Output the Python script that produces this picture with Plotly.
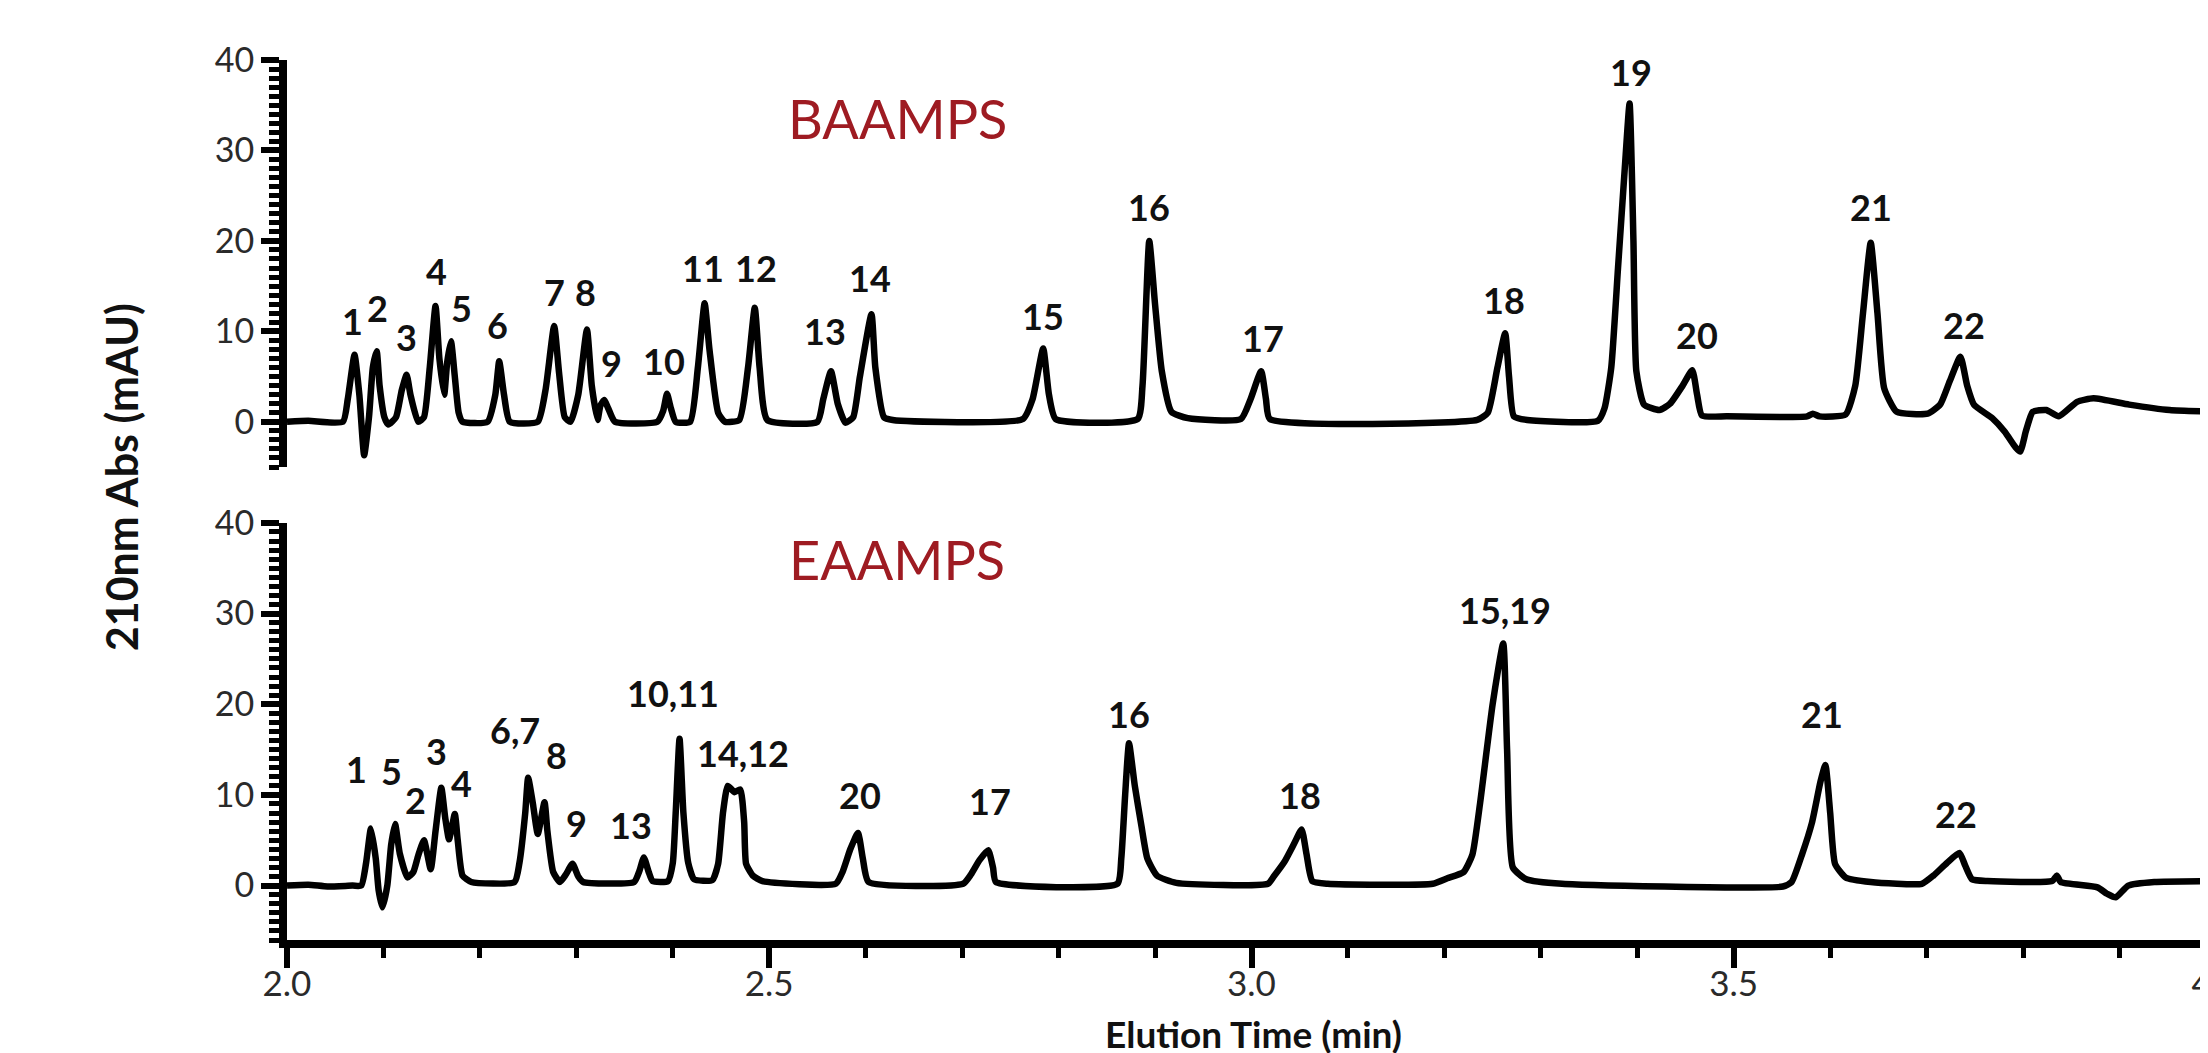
import plotly.graph_objects as go

# ---------------- data ----------------
# Upper chromatogram (BAAMPS): elution time (min) and absorbance (mAU)
top_time = [
    2.000, 2.022, 2.058,
    2.063, 2.070, 2.075, 2.080, 2.085, 2.089, 2.093, 2.096, 2.101, 2.105,
    2.113, 2.119, 2.124, 2.128, 2.136,
    2.142, 2.148, 2.154, 2.158, 2.163, 2.166, 2.170, 2.174, 2.178, 2.182,
    2.208, 2.216, 2.220, 2.225, 2.231,
    2.260, 2.268, 2.277, 2.282, 2.288, 2.294, 2.302, 2.311, 2.316, 2.322,
    2.325, 2.329, 2.333, 2.340,
    2.384, 2.390, 2.394, 2.398, 2.403,
    2.418, 2.426, 2.433, 2.438, 2.447, 2.454,
    2.469, 2.478, 2.485, 2.490, 2.498,
    2.550, 2.556, 2.564, 2.571, 2.579,
    2.587, 2.594, 2.606, 2.610, 2.619, 2.628,
    2.763, 2.773, 2.784, 2.790, 2.797,
    2.882, 2.887, 2.894, 2.900, 2.907, 2.917, 2.934,
    2.989, 2.999, 3.010, 3.015, 3.019,
    3.234, 3.245, 3.255, 3.263, 3.267, 3.272, 3.286,
    3.359, 3.366, 3.373, 3.380, 3.387, 3.392, 3.396, 3.399, 3.407, 3.423,
    3.434, 3.447, 3.457, 3.462, 3.467, 3.493,
    3.576, 3.582, 3.589,
    3.616, 3.626, 3.634, 3.642, 3.649, 3.656, 3.669, 3.701,
    3.714, 3.724, 3.735, 3.742, 3.749, 3.768,
    3.781, 3.792, 3.797, 3.803, 3.810, 3.824, 3.837, 3.856, 3.873,
    3.910, 3.952, 4.000,
]
top_signal = [
    0.0, 0.1, 0.0,
    2.5, 7.4, 3.0, -3.7, 0.5, 6.0, 7.8, 4.0, 0.5, -0.3,
    0.5, 3.5, 5.2, 3.0, 0.0,
    0.5, 6.0, 12.8, 7.0, 3.0, 6.5, 8.9, 5.0, 1.0, 0.0,
    0.0, 3.0, 6.7, 3.0, 0.0,
    0.0, 3.5, 10.6, 5.5, 0.5, 0.0, 3.0, 10.2, 4.0, 0.2,
    1.8, 2.4, 1.5, 0.0,
    0.0, 1.2, 3.1, 1.5, 0.0,
    0.0, 6.0, 13.1, 8.0, 1.0, 0.0,
    0.2, 6.0, 12.6, 6.0, 0.2,
    0.0, 2.5, 5.6, 2.0, -0.1,
    0.5, 5.0, 11.9, 6.0, 0.5, 0.2,
    0.3, 2.5, 8.1, 3.0, 0.3,
    0.3, 4.0, 20.0, 13.0, 5.6, 1.1, 0.4,
    0.3, 2.5, 5.6, 2.5, 0.3,
    0.2, 1.0, 6.0, 9.8, 5.0, 0.6, 0.2,
    0.1, 1.5, 6.0, 17.0, 28.0, 35.2, 20.0, 5.6, 1.9, 1.3,
    2.0, 4.0, 5.7, 3.0, 0.7, 0.6,
    0.6, 0.9, 0.6,
    0.8, 4.0, 12.0, 19.8, 12.0, 3.7, 1.1, 0.9,
    1.9, 4.5, 7.2, 4.0, 1.9, 0.4,
    -1.1, -2.8, -3.3, -1.0, 1.1, 1.3, 0.6, 2.2, 2.6,
    1.9, 1.3, 1.1,
]

# Lower chromatogram (EAAMPS)
bottom_time = [
    2.000, 2.022, 2.042, 2.068, 2.077,
    2.082, 2.087, 2.092, 2.095, 2.099, 2.104, 2.108, 2.112, 2.117, 2.125,
    2.131, 2.136, 2.142, 2.149, 2.154, 2.160, 2.164, 2.168, 2.174, 2.177,
    2.182, 2.191,
    2.236, 2.241, 2.247, 2.250, 2.255, 2.260, 2.267, 2.270, 2.276, 2.283,
    2.289, 2.296, 2.302, 2.307,
    2.360, 2.365, 2.370, 2.375, 2.379,
    2.395, 2.400, 2.403, 2.407, 2.411, 2.416, 2.422,
    2.441, 2.447, 2.452, 2.457, 2.464, 2.470, 2.474, 2.476, 2.483, 2.493,
    2.569, 2.576, 2.584, 2.592, 2.597, 2.603,
    2.701, 2.709, 2.718, 2.727, 2.732, 2.735,
    2.861, 2.865, 2.869, 2.873, 2.879, 2.886, 2.892, 2.902, 2.922,
    3.017, 3.023, 3.034, 3.045, 3.052, 3.057, 3.063, 3.079,
    3.188, 3.203, 3.220, 3.229, 3.237, 3.250, 3.261, 3.265, 3.271, 3.285,
    3.322,
    3.551, 3.560, 3.571, 3.581, 3.590, 3.595, 3.600, 3.605, 3.616, 3.642,
    3.695, 3.707, 3.721, 3.734, 3.740, 3.747, 3.763,
    3.830, 3.835, 3.839, 3.877, 3.887, 3.896, 3.909, 3.936, 4.000,
]
bottom_signal = [
    0.0, 0.1, -0.1, 0.0, 0.0,
    2.5, 6.3, 3.0, -0.5, -2.4, 0.0, 4.5, 6.8, 3.5, 0.9,
    1.5, 3.3, 5.0, 1.8, 6.0, 10.8, 7.5, 5.1, 7.9, 5.0,
    1.1, 0.4,
    0.4, 2.5, 8.0, 11.9, 9.0, 5.7, 9.2, 6.0, 1.5, 0.4,
    1.2, 2.4, 1.0, 0.4,
    0.4, 1.5, 3.1, 1.5, 0.5,
    0.5, 2.5, 8.0, 16.2, 8.0, 2.5, 0.7,
    0.6, 2.4, 8.0, 11.0, 10.3, 10.6, 7.0, 2.4, 1.1, 0.5,
    0.2, 1.5, 4.0, 5.8, 3.0, 0.4,
    0.2, 1.2, 2.8, 3.9, 2.0, 0.4,
    0.2, 3.0, 10.0, 15.7, 11.0, 6.5, 3.0, 1.1, 0.3,
    0.2, 1.0, 2.6, 4.8, 6.2, 3.5, 0.5, 0.2,
    0.2, 0.8, 1.5, 3.4, 9.1, 20.0, 26.7, 15.0, 2.0, 0.7,
    0.2,
    -0.1, 0.4, 3.5, 6.9, 11.5, 13.3, 8.0, 2.4, 0.9, 0.4,
    0.2, 1.1, 2.5, 3.6, 2.2, 0.7, 0.5,
    0.5, 1.1, 0.4, -0.2, -0.9, -1.3, 0.0, 0.4, 0.5,
]

# Peak labels
top_labels = ["1", "2", "3", "4", "5", "6", "7", "8", "9", "10", "11", "12",
              "13", "14", "15", "16", "17", "18", "19", "20", "21", "22"]
top_label_time = [2.068, 2.094, 2.124, 2.155, 2.181, 2.218, 2.277, 2.310, 2.336,
                  2.391, 2.431, 2.486, 2.558, 2.604, 2.784, 2.894, 3.012, 3.262,
                  3.393, 3.462, 3.642, 3.739]
top_label_level = [11.1, 12.6, 9.4, 16.7, 12.6, 10.7, 14.4, 14.4, 6.5,
                   6.7, 17.0, 17.0, 10.0, 15.9, 11.7, 23.7, 9.3, 13.5,
                   38.7, 9.6, 23.7, 10.7]

bottom_labels = ["1", "5", "2", "3", "4", "6,7", "8", "9", "13", "10,11", "14,12",
                 "20", "17", "16", "18", "15,19", "21", "22"]
bottom_label_time = [2.072, 2.108, 2.133, 2.155, 2.181, 2.236, 2.279, 2.300, 2.357,
                     2.400, 2.473, 2.594, 2.729, 2.873, 3.050, 3.263, 3.592, 3.730]
bottom_label_level = [12.9, 12.6, 9.4, 14.8, 11.3, 17.2, 14.4, 6.9, 6.7,
                      21.2, 14.6, 10.0, 9.3, 18.9, 10.0, 30.4, 18.9, 7.9]

y_ticks = [0, 10, 20, 30, 40]
x_ticks = [2.0, 2.5, 3.0, 3.5, 4.0]
panel_names = ["BAAMPS", "EAAMPS"]

# ---------------- figure ----------------
FONT = "Lato"
LINE = dict(color="black", width=6.5, shape="spline", smoothing=0.5)
fig = go.Figure()
fig.add_trace(go.Scatter(x=top_time, y=top_signal, xaxis="x2", yaxis="y2",
                         mode="lines", line=LINE,
                         showlegend=False, hoverinfo="skip"))
fig.add_trace(go.Scatter(x=bottom_time, y=bottom_signal, xaxis="x", yaxis="y",
                         mode="lines", line=LINE,
                         showlegend=False, hoverinfo="skip"))

def y_axis(rng, domain, anchor):
    return dict(
        range=rng, domain=domain, tickvals=y_ticks, ticks="outside",
        ticklen=18, tickwidth=6, tickcolor="black",
        showline=True, linewidth=8, linecolor="black",
        showgrid=False, zeroline=False, automargin=False,
        tickfont=dict(family=FONT, size=34, color="#2a2a2a"),
        minor=dict(dtick=1, tick0=0, ticks="outside", ticklen=10,
                   tickwidth=5, tickcolor="black", showgrid=False),
        anchor=anchor,
    )

fig.update_layout(
    width=2208, height=1053,
    margin=dict(l=279, r=0, t=52, b=121),
    paper_bgcolor="white", plot_bgcolor="white",
    xaxis=dict(
        range=[2.0, 4.0], domain=[0, 1], anchor="y",
        tickvals=x_ticks, tickformat=".1f", ticks="outside",
        ticklen=20, tickwidth=6, tickcolor="black",
        showline=True, linewidth=8, linecolor="black",
        showgrid=False, zeroline=False, automargin=False,
        ticklabeloverflow="allow", ticklabelstandoff=-14,
        tickfont=dict(family=FONT, size=35, color="#2a2a2a"),
        minor=dict(dtick=0.1, tick0=2.0, ticks="outside", ticklen=10,
                   tickwidth=5, tickcolor="black", showgrid=False),
    ),
    xaxis2=dict(range=[2.0, 4.0], domain=[0, 1], anchor="y2", matches="x",
                visible=False),
    yaxis=y_axis([-6, 40], [0, 0.474], "x"),
    yaxis2=y_axis([-5, 40], [0.5375, 1.0], "x2"),
    showlegend=False,
)

LABEL_FONT = dict(family=FONT, size=36, color="#111111", weight=700)
ann = []
for txt, t, v in zip(top_labels, top_label_time, top_label_level):
    ann.append(dict(x=t, y=v, xref="x2", yref="y2", text=txt, showarrow=False,
                    font=LABEL_FONT, xanchor="center", yanchor="middle"))
for txt, t, v in zip(bottom_labels, bottom_label_time, bottom_label_level):
    ann.append(dict(x=t, y=v, xref="x", yref="y", text=txt, showarrow=False,
                    font=LABEL_FONT, xanchor="center", yanchor="middle"))

ann.append(dict(x=2.633, y=33.5, xref="x2", yref="y2", text=panel_names[0],
                showarrow=False, font=dict(family=FONT, size=54, color="#9E1B22"),
                xanchor="center", yanchor="middle"))
ann.append(dict(x=2.632, y=36.0, xref="x", yref="y", text=panel_names[1],
                showarrow=False, font=dict(family=FONT, size=54, color="#9E1B22"),
                xanchor="center", yanchor="middle"))

# axis titles
ann.append(dict(x=-0.086, y=0.526, xref="paper", yref="paper",
                text="210nm Abs (mAU)", textangle=-90, showarrow=False,
                font=dict(family=FONT, size=43, color="#111111", weight=700),
                xanchor="center", yanchor="middle"))
ann.append(dict(x=0.501, y=-0.1345, xref="paper", yref="paper",
                text="Elution Time (min)", showarrow=False,
                font=dict(family=FONT, size=37, color="#111111", weight=700),
                xanchor="center", yanchor="bottom"))

fig.update_layout(annotations=ann)
fig.write_html("out.html")
